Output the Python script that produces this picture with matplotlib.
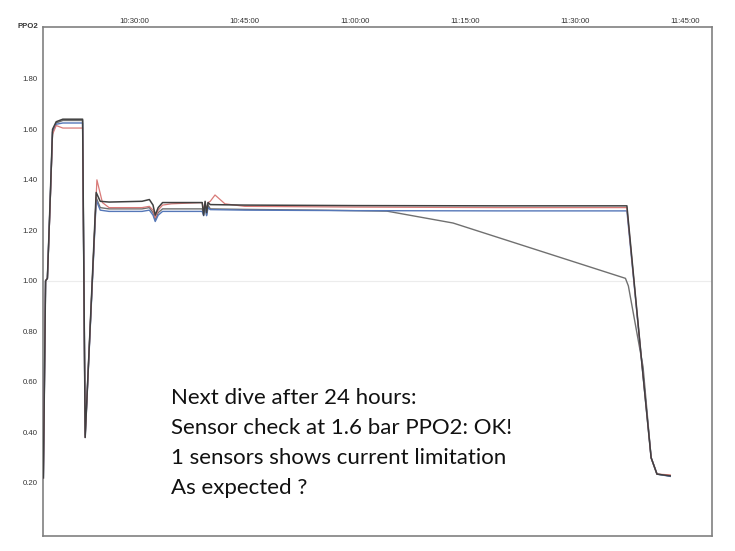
import matplotlib
matplotlib.use("Agg")
import matplotlib.pyplot as plt

# ---- data (time in minutes after 10:00, PPO2 in bar) ----
black_t = [17.55, 17.85, 18.1, 18.45, 18.8, 19.3, 20.2, 22.9, 23.25, 24.75, 25.3, 26.5,
           31.0, 32.0, 32.5, 32.8, 33.2, 33.8, 35.0, 39.2, 39.4, 39.6, 39.8, 40.0, 40.3,
           45.0, 60.0, 80.0, 97.1, 99.1, 100.4, 101.2, 103.0]
black_v = [0.22, 1.00, 1.01, 1.30, 1.60, 1.63, 1.64, 1.64, 0.38, 1.35, 1.315, 1.312,
           1.315, 1.322, 1.30, 1.26, 1.29, 1.31, 1.31, 1.31, 1.26, 1.315, 1.27, 1.31, 1.302,
           1.30, 1.298, 1.297, 1.297, 0.685, 0.30, 0.235, 0.228]

gray_t = [17.55, 17.85, 18.1, 18.45, 18.8, 19.3, 20.2, 22.9, 23.25, 24.75, 25.3, 26.5,
          31.0, 32.0, 32.5, 32.8, 33.2, 33.8, 35.0, 39.2, 39.4, 39.6, 39.8, 40.0, 40.3,
          45.0, 55.0, 64.4, 73.4, 96.9, 97.3, 99.3, 100.4, 101.2, 103.0]
gray_v = [0.22, 1.00, 1.01, 1.29, 1.59, 1.625, 1.635, 1.635, 0.39, 1.33, 1.29, 1.285,
          1.285, 1.29, 1.27, 1.24, 1.27, 1.285, 1.285, 1.285, 1.27, 1.30, 1.26, 1.30, 1.285,
          1.283, 1.28, 1.276, 1.229, 1.01, 0.98, 0.66, 0.30, 0.235, 0.228]

red_t = [17.55, 17.85, 18.1, 18.45, 18.8, 19.3, 20.2, 22.9, 23.25, 24.85, 25.6, 26.5,
         31.0, 32.0, 32.5, 32.8, 33.2, 33.8, 35.0, 39.2, 39.4, 39.6, 39.8, 40.0, 40.3,
         40.95, 42.3, 45.0, 60.0, 80.0, 97.1, 99.1, 100.4, 101.2, 103.0]
red_v = [0.22, 1.00, 1.01, 1.28, 1.58, 1.615, 1.605, 1.605, 0.38, 1.40, 1.31, 1.29,
         1.29, 1.295, 1.28, 1.25, 1.28, 1.30, 1.305, 1.31, 1.28, 1.31, 1.28, 1.31, 1.315,
         1.34, 1.305, 1.295, 1.292, 1.29, 1.29, 0.685, 0.30, 0.235, 0.232]

blue_t = [17.55, 17.85, 18.1, 18.45, 18.8, 19.3, 20.2, 22.9, 23.25, 24.75, 25.3, 26.5,
          31.0, 32.0, 32.5, 32.8, 33.2, 33.8, 35.0, 39.2, 39.4, 39.6, 39.8, 40.0, 40.3,
          45.0, 60.0, 80.0, 97.1, 99.1, 100.4, 101.2, 103.0]
blue_v = [0.22, 1.00, 1.01, 1.29, 1.59, 1.62, 1.625, 1.625, 0.38, 1.32, 1.28, 1.275,
          1.275, 1.28, 1.26, 1.235, 1.26, 1.275, 1.275, 1.275, 1.258, 1.30, 1.258, 1.29, 1.282,
          1.28, 1.278, 1.277, 1.277, 0.685, 0.30, 0.235, 0.226]

y_ticks = [0.20, 0.40, 0.60, 0.80, 1.00, 1.20, 1.40, 1.60, 1.80]
x_ticks = [30, 45, 60, 75, 90, 105]
x_labels = ["10:30:00", "10:45:00", "11:00:00", "11:15:00", "11:30:00", "11:45:00"]

note_lines = ["Next dive after 24 hours:",
              "Sensor check at 1.6 bar PPO2: OK!",
              "1 sensors shows current limitation",
              "As expected ?"]

# ---- figure ----
fig = plt.figure(figsize=(7.35, 5.51), dpi=100)
ax = fig.add_axes([43 / 735, 1 - 536 / 551, (712 - 43) / 735, (536 - 27) / 551])

ax.axhline(1.0, color="#ececec", lw=0.8, zorder=0)

ax.plot(gray_t, gray_v, color="#707070", lw=1.0, zorder=2)
ax.plot(blue_t, blue_v, color="#5577b8", lw=1.0, zorder=3)
ax.plot(red_t, red_v, color="#d97a78", lw=0.9, zorder=3)
ax.plot(black_t, black_v, color="#404040", lw=1.1, zorder=4)

ax.set_xlim(17.5, 108.7)
ax.set_ylim(-0.01, 2.005)

ax.set_yticks(y_ticks)
ax.set_yticklabels([f"{v:.2f}" for v in y_ticks])
ax.set_xticks(x_ticks)
ax.set_xticklabels(x_labels)
ax.xaxis.tick_top()
ax.tick_params(axis="both", length=0, labelsize=5.6, labelcolor="#333333")
ax.tick_params(axis="x", pad=1.2)
ax.tick_params(axis="y", pad=4)
for lab in ax.get_xticklabels() + ax.get_yticklabels():
    lab.set_family("Liberation Sans")

for s in ax.spines.values():
    s.set_color("#808080")
    s.set_linewidth(1.2)

ax.text(-0.007, 1.0, "PPO2", transform=ax.transAxes, ha="right", va="center",
        fontsize=5.6, fontweight="bold", color="#333333", family="Liberation Sans")

for i, line in enumerate(note_lines):
    fig.text(171 / 735, 1 - (404 + 30 * i) / 551, line, ha="left", va="baseline",
             fontsize=16, family="Lato", color="#111111")

fig.savefig("out.png", dpi=100)
